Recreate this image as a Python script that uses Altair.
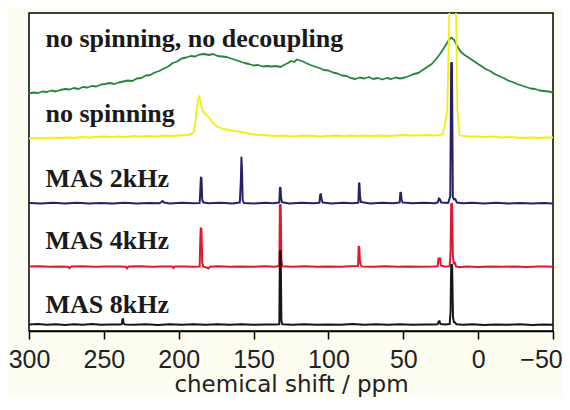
import altair as alt
import pandas as pd

# ---- data (ppm, intensity in plot units 0..318) ----
green_ppm = [300, 297, 294, 291, 288, 285, 282, 279, 276, 273, 270, 267, 264, 261, 258, 255, 252, 249, 246, 243,
             240, 237, 234, 231, 228, 225, 222, 219, 216, 213, 210, 207, 204, 201, 198, 195, 192, 189, 186, 183,
             180, 177, 174, 171, 168, 165, 162, 159, 156, 153, 150, 147, 144, 141, 138, 135, 132, 129, 127, 125,
             123, 121, 119, 117, 115, 112, 109, 106, 103, 100, 97, 94, 91, 88, 85, 82, 79, 76, 73, 70,
             67, 64, 61, 58, 55, 52, 49, 46, 43, 40, 37, 34, 31, 28, 25, 22, 20, 18, 16, 14,
             12, 10, 7, 4, 1, -2, -5, -8, -11, -14, -17, -20, -23, -26, -29, -32, -35, -38, -41, -44, -47, -50]
green_val = [237.5, 238.5, 238, 239.5, 239, 240.5, 239.5, 241, 242, 241.5, 243, 242, 244, 243.5, 245, 244.5, 246.5, 247, 248, 247,
             248.5, 249.5, 250.5, 250, 252.5, 253, 255.5, 256, 258.5, 260, 262.5, 264.5, 268, 269.5, 272.5, 273.5, 275, 274.5, 276.5, 277,
             276, 277, 275, 274.5, 274, 272.5, 271, 269.5, 268, 267, 265.5, 266, 264.5, 265, 264.5, 265, 264, 266.5, 268, 270,
             269, 271.5, 270.5, 269.5, 268, 266, 264.5, 263, 261, 260.5, 258.5, 257.5, 255.5, 255, 253, 252, 253.5, 252.5, 254, 252,
             253, 251.5, 253, 252, 253.5, 252.5, 253.5, 255, 257, 258, 261, 264, 267, 272, 278, 285, 290, 293.5, 291, 285,
             280, 277, 274, 271, 268, 265, 262, 260, 257, 255, 253, 250.5, 249, 247, 245.5, 244, 242.5, 242, 240.5, 240, 239.5, 238.5]

yellow_ppm = [300, 295, 290, 285, 280, 275, 270, 265, 260, 255, 250, 245, 240, 235, 230, 225, 220, 215, 210, 205,
              200, 195, 192, 190, 189, 188, 187, 186.4, 185.5, 184.5, 183, 181.3, 179, 177, 174.6, 170, 165, 160, 155, 150,
              145, 140, 135, 130, 125, 120, 115, 110, 105, 100, 95, 90, 85, 80, 75, 70, 65, 60, 55, 50,
              45, 40, 35, 30, 26, 24, 23.4, 20.6, 17.7, 15.8, 13.9, 12.4, 10, 5, 0, -5, -10, -15, -20, -25,
              -30, -35, -40, -45, -50]
yellow_val = [192.5, 193, 192.5, 193.5, 193, 193.5, 193, 194, 193.5, 194, 194.5, 194, 194.5, 194, 195, 194.5, 195, 194.5, 195.5, 195,
              195.5, 196, 196.5, 199, 207, 222, 232, 235, 230, 222, 218, 216, 212, 208, 204.5, 202, 200.5, 199.5, 198, 196.5,
              196, 195.5, 195, 195.5, 194.5, 195, 195.5, 195, 194.5, 195, 195.5, 195, 195.5, 195, 195.5, 195, 195.5, 195, 195.5, 196,
              195.5, 195.5, 196, 195.5, 196, 196.5, 197, 221, 431, 431, 221, 196, 195, 194.5, 194.5, 194, 194.5, 193.5, 194, 193.5,
              193, 193.5, 193, 193.5, 193.5]

purple_ppm = [300, 292, 284, 276, 268, 260, 252, 244, 236, 228, 220, 213, 211.5, 210.7, 209.8, 206, 198, 190, 186, 185.6,
              185.2, 184.8, 184.3, 183.5, 180, 172, 164, 159.2, 158.5, 158.1, 157.7, 157.3, 156.5, 150, 142, 137, 132.8, 132.4, 132, 131.6,
              131, 126, 118, 110, 106, 105.5, 105.0, 104.5, 103.8, 98, 90, 84, 80, 79.6, 79.3, 78.9, 78.3, 72, 64, 57,
              52.4, 52.0, 51.6, 51.1, 50.4, 44, 36, 29, 27, 26.2, 25.5, 24.6, 20, 18.6, 18.0, 17.5, 16.9, 16.1, 15.2, 14.3,
              10, 4, -4, -12, -20, -28, -36, -44, -50]
purple_val = [128, 127.5, 128.3, 127.6, 128.2, 127.4, 128, 127.5, 128.3, 127.6, 128.1, 127.7, 129, 130, 128.5, 127.6, 128.2, 127.8, 128, 140,
              153.5, 153, 131, 128.5, 127.7, 128.3, 127.6, 128.4, 150, 173.5, 160, 131, 128, 127.6, 128.2, 127.7, 128.5, 143, 143.3, 133,
              128.7, 127.6, 128.2, 127.8, 128.3, 136.5, 137, 131, 128.5, 127.6, 128.2, 127.7, 128.3, 147.5, 147.7, 135, 129, 127.6, 128.2, 127.7,
              128.6, 138, 138.3, 131, 128.4, 127.7, 128.3, 127.8, 128.5, 132.7, 131.5, 128.4, 128, 135, 268, 268, 134, 131.5, 132, 128.5,
              127.7, 128.3, 127.6, 128.2, 127.5, 128.1, 127.4, 128, 127.6]

red_ppm = [300, 294, 286, 280, 274, 273, 271.8, 265, 256, 248, 240, 235.2, 234.6, 233.6, 226, 218, 210, 204.2, 203.6, 202.8,
           196, 190, 186, 185.6, 185.3, 184.8, 184.3, 183.6, 181, 180, 179, 174, 166, 158, 150, 142, 136, 132.8, 132.4, 131.9,
           131.4, 130.8, 124, 116, 108, 100, 92, 85, 80.2, 79.8, 79.4, 79.0, 78.4, 77.6, 70, 62, 54, 46, 38, 30,
           27, 26.5, 25.4, 24.9, 22, 19, 18.4, 18.0, 17.4, 16.9, 16.3, 15.6, 14.8, 12, 8, 0, -8, -16, -24, -32,
           -40, -46, -50]
red_val = [64.5, 64.8, 64.2, 64.6, 64.3, 62.8, 64.4, 64.8, 64.2, 64.6, 64.4, 64.2, 62.6, 64.4, 64.8, 64.3, 64.6, 64.4, 62.8, 64.4,
           64.5, 64.3, 64.6, 90, 102.7, 102, 68, 64.4, 63.2, 62.6, 64.3, 64.7, 64.2, 64.6, 64.3, 64.7, 64.2, 65, 126, 126,
           70, 64.8, 64.3, 64.7, 64.2, 64.6, 64.3, 64.7, 65, 84.3, 84, 70, 66, 64.5, 64.3, 64.7, 64.2, 64.6, 64.3, 64.5,
           64.8, 72.5, 72.7, 65.5, 64.4, 64.8, 80, 127, 127, 75, 67.5, 68.5, 64.5, 63.8, 64.4, 64.1, 64.6, 64.2, 64.5, 63.9,
           64.4, 64.6, 64.2]

black_ppm = [300, 294, 288, 282, 276, 270, 264, 258, 252, 246, 240, 238, 237.6, 237.2, 236.8, 236, 230, 222, 214, 206,
             198, 190, 182, 174, 166, 158, 150, 142, 136, 132.8, 132.4, 131.9, 131.4, 130.8, 124, 116, 108, 100, 92, 84,
             76, 68, 60, 52, 44, 36, 30, 27, 26.4, 25.8, 25.2, 22, 19, 18.4, 18.0, 17.4, 16.8, 16.2, 15.4, 14.6,
             10, 4, -4, -12, -20, -28, -36, -44, -50]
black_val = [6.5, 6.9, 6.2, 6.8, 6.1, 6.7, 6.3, 6.9, 6.2, 6.6, 6.4, 6.8, 11.5, 12, 7.5, 6.6, 6.2, 6.8, 6.1, 6.7,
             6.3, 6.8, 6.2, 6.7, 6.3, 6.8, 6.2, 6.6, 6.4, 6.8, 80, 80, 10, 6.7, 6.3, 6.8, 6.2, 6.6, 6.3, 6.9,
             6.2, 6.7, 6.3, 6.8, 6.2, 6.6, 6.4, 6.8, 9.5, 10, 7, 6.5, 6.9, 20, 66, 66, 14, 9, 8.5, 6.8,
             6.2, 6.7, 6.1, 6.6, 6.2, 6.8, 6.1, 6.6, 6.3]

labels = ["no spinning, no decoupling", "no spinning", "MAS 2kHz", "MAS 4kHz", "MAS 8kHz"]
label_ppm = [289, 289, 289, 289, 289]
label_val = [284.3, 209.3, 144.3, 81.7, 17.7]

tick_values = [300, 250, 200, 150, 100, 50, 0, -50]
colors = {"green": "#23873a", "yellow": "#f4ef12", "purple": "#2c1f6a", "red": "#e3162e", "black": "#161616"}

# ---- chart ----
xenc = alt.X("ppm:Q",
             scale=alt.Scale(domain=[300, -50], nice=False, zero=False),
             axis=alt.Axis(values=tick_values, tickSize=8, tickWidth=1.5, tickColor="black",
                           domainColor="black", domainWidth=1.5, grid=False,
                           labelFontSize=25, labelFont="Liberation Sans", labelColor="#222222",
                           labelPadding=8, labelFlush=False, labelOverlap=False,
                           labelOffset={"condition": {"test": "datum.value == -50", "value": -12}, "value": 0},
                           title="chemical shift / ppm", titleFont="DejaVu Sans", titleFontSize=23,
                           titleFontWeight="normal", titleColor="#222222",
                           titleBaseline="alphabetic", titleY=60.5))
yscale = alt.Scale(domain=[0, 318], nice=False, zero=False)


def spectrum(ppm, val, color, width):
    df = pd.DataFrame({"ppm": ppm, "val": val, "i": range(len(ppm))})
    return alt.Chart(df).mark_line(color=color, strokeWidth=width, clip=True, strokeJoin="round").encode(
        x=xenc,
        y=alt.Y("val:Q", scale=yscale, axis=None),
        order="i:Q",
    )


layers = [
    spectrum(green_ppm, green_val, colors["green"], 1.8),
    spectrum(yellow_ppm, yellow_val, colors["yellow"], 1.8),
    spectrum(purple_ppm, purple_val, colors["purple"], 2),
    spectrum(red_ppm, red_val, colors["red"], 2),
    spectrum(black_ppm, black_val, colors["black"], 2),
]

text_df = pd.DataFrame({"label": labels, "ppm": label_ppm, "val": label_val})
text = alt.Chart(text_df).mark_text(align="left", baseline="alphabetic", font="Liberation Serif",
                                    fontSize=26, fontWeight="bold", color="#1a1a1a").encode(
    x=xenc, y=alt.Y("val:Q", scale=yscale, axis=None), text="label:N")

chart = alt.layer(*layers, text).properties(
    width=524, height=318,
    autosize=alt.AutoSizeParams(type="none"),
    padding={"left": 21, "top": 5, "right": 9, "bottom": 66},
    background="#fcfcf0",
).configure_view(stroke="black", strokeWidth=1.5, fill="white")

chart.save("out.html", embed_options={"renderer": "svg", "actions": False})
